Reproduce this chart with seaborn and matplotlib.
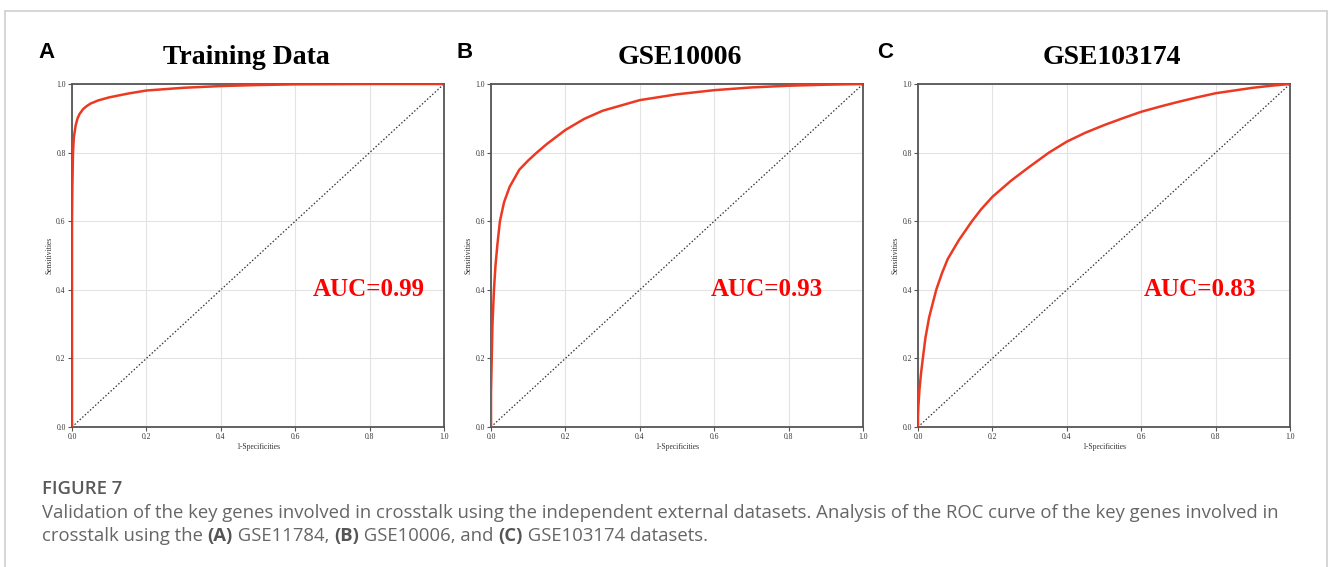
import numpy as np
import pandas as pd
import matplotlib
matplotlib.use("Agg")
import matplotlib.pyplot as plt
from matplotlib.lines import Line2D
import seaborn as sns

# ---------------- data ----------------
titles = ["Training Data", "GSE10006", "GSE103174"]
letters = ["A", "B", "C"]
auc_labels = ["AUC=0.99", "AUC=0.93", "AUC=0.83"]

fpr_a = [0, 0, 0.001, 0.0027, 0.005, 0.01, 0.015, 0.02, 0.03, 0.04, 0.05, 0.07, 0.1, 0.15, 0.2,
         0.3, 0.4, 0.5, 0.6, 0.8, 1.0]
tpr_a = [0, 0.6, 0.7, 0.8, 0.845, 0.88, 0.9, 0.912, 0.927, 0.936, 0.943, 0.952, 0.961, 0.972, 0.981,
         0.989, 0.994, 0.997, 0.999, 1.0, 1.0]

fpr_b = [0, 0, 0.001, 0.002, 0.004, 0.008, 0.012, 0.017, 0.024, 0.035, 0.05, 0.076, 0.1, 0.121, 0.15,
         0.2, 0.25, 0.3, 0.4, 0.5, 0.6, 0.7, 0.8, 0.9, 1.0]
tpr_b = [0, 0.1, 0.15, 0.2, 0.3, 0.4, 0.47, 0.53, 0.6, 0.655, 0.70, 0.75, 0.777, 0.798, 0.825,
         0.866, 0.898, 0.922, 0.953, 0.970, 0.982, 0.990, 0.995, 0.998, 1.0]

fpr_c = [0, 0, 0.001, 0.004, 0.008, 0.013, 0.02, 0.03, 0.049, 0.065, 0.08, 0.11, 0.145, 0.17, 0.2,
         0.25, 0.3, 0.352, 0.4, 0.45, 0.5, 0.55, 0.6, 0.65, 0.7, 0.75, 0.8, 0.85, 0.9, 0.95, 1.0]
tpr_c = [0, 0.03, 0.06, 0.11, 0.155, 0.2, 0.26, 0.32, 0.4, 0.45, 0.49, 0.545, 0.6, 0.635, 0.671,
         0.718, 0.759, 0.8, 0.832, 0.858, 0.880, 0.90, 0.919, 0.934, 0.948, 0.961, 0.973, 0.981, 0.989, 0.995, 1.0]

ticks = [0.0, 0.2, 0.4, 0.6, 0.8, 1.0]
tick_labels = ["0.0", "0.2", "0.4", "0.6", "0.8", "1.0"]

caption_title = "FIGURE 7"
caption_line1 = ("Validation of the key genes involved in crosstalk using the independent external datasets. "
                 "Analysis of the ROC curve of the key genes involved in")
caption_line2 = [("crosstalk using the ", False), ("(A)", True), (" GSE11784, ", False), ("(B)", True),
                 (" GSE10006, and ", False), ("(C)", True), (" GSE103174 datasets.", False)]

# ---------------- style ----------------
sns.set_style("white")
plt.rcParams["font.family"] = ["Liberation Serif", "DejaVu Serif"]

W, H = 1328, 567
fig = plt.figure(figsize=(W / 100, H / 100), dpi=100)

curves = [(fpr_a, tpr_a), (fpr_b, tpr_b), (fpr_c, tpr_c)]
lefts = [72, 491, 918]
ax_w, ax_top, ax_bot = 372, 84, 427
title_cx = [246, 680, 1112]
letter_x = [38, 456, 877]
auc_x = [0.646, 0.592, 0.608]

spine_col = "#555555"
for i in range(3):
    ax = fig.add_axes([lefts[i] / W, 1 - ax_bot / H, ax_w / W, (ax_bot - ax_top) / H])
    fx, ty = curves[i]
    df = pd.DataFrame({"fpr": fx, "tpr": ty})
    ax.plot([0, 1], [0, 1], color="#333333", lw=0.9, ls=(0, (1.2, 1.6)), zorder=2)
    sns.lineplot(data=df, x="fpr", y="tpr", sort=False, estimator=None, ax=ax,
                 color="#ec3a22", lw=1.8, zorder=3, solid_joinstyle="round", solid_capstyle="round")
    ax.set_xlim(0, 1)
    ax.set_ylim(0, 1)
    ax.set_xticks(ticks)
    ax.set_xticklabels(tick_labels)
    ax.set_yticks(ticks)
    ax.set_yticklabels(tick_labels)
    ax.grid(True, color="#e3e3e3", lw=0.8)
    ax.set_axisbelow(True)
    for s in ax.spines.values():
        s.set_color(spine_col)
        s.set_linewidth(1.3)
        s.set_visible(True)
    ax.tick_params(axis="both", direction="out", length=3, width=0.8, color=spine_col,
                   labelsize=5.5, labelcolor="#333333", pad=1.5, bottom=True, left=True)
    ax.set_xlabel("1-Specificities", fontsize=5.5, color="#333333", labelpad=1)
    ax.set_ylabel("Sensitivities", fontsize=5.5, color="#333333", labelpad=2)
    ax.text(auc_x[i], 0.40, auc_labels[i], color="#ff0000", fontsize=18, fontweight="bold",
            ha="left", va="center", transform=ax.transAxes)
    fig.text(title_cx[i] / W, 1 - 58 / H, titles[i], fontsize=20, fontweight="bold",
             ha="center", va="center", color="black")
    fig.text(letter_x[i] / W, 1 - 52 / H, letters[i], fontsize=16, fontweight="bold",
             ha="left", va="center", family=["Liberation Sans", "DejaVu Sans"], color="black")

# ---------------- caption ----------------
cap_font = ["Open Sans", "DejaVu Sans"]
cap_col = "#666666"
cap_size = 13.3
fig.text(42 / W, 1 - 489 / H, caption_title, fontsize=cap_size, color="#595959", fontweight="semibold",
         family=cap_font, ha="left", va="center")
fig.text(42 / W, 1 - 513 / H, caption_line1, fontsize=cap_size, color=cap_col,
         family=cap_font, ha="left", va="center")

fig.canvas.draw()
renderer = fig.canvas.get_renderer()
x = 42
for txt, bold in caption_line2:
    t = fig.text(x / W, 1 - 536 / H, txt, fontsize=cap_size, color=cap_col if not bold else "#555555",
                 family=cap_font, fontweight="bold" if bold else "normal", ha="left", va="center")
    bb = t.get_window_extent(renderer=renderer)
    x += bb.width

# ---------------- page frame ----------------
frame_col = "#cfcfcf"
fig.add_artist(Line2D([4.5 / W, 4.5 / W], [0, 1 - 10.5 / H], color=frame_col, lw=1.2,
                      transform=fig.transFigure))
fig.add_artist(Line2D([4.5 / W, 1326.5 / W], [1 - 10.5 / H, 1 - 10.5 / H], color=frame_col, lw=1.2,
                      transform=fig.transFigure))
fig.add_artist(Line2D([1326.5 / W, 1326.5 / W], [0, 1 - 10.5 / H], color=frame_col, lw=1.2,
                      transform=fig.transFigure))

fig.savefig("out.png", dpi=100, facecolor="white")
